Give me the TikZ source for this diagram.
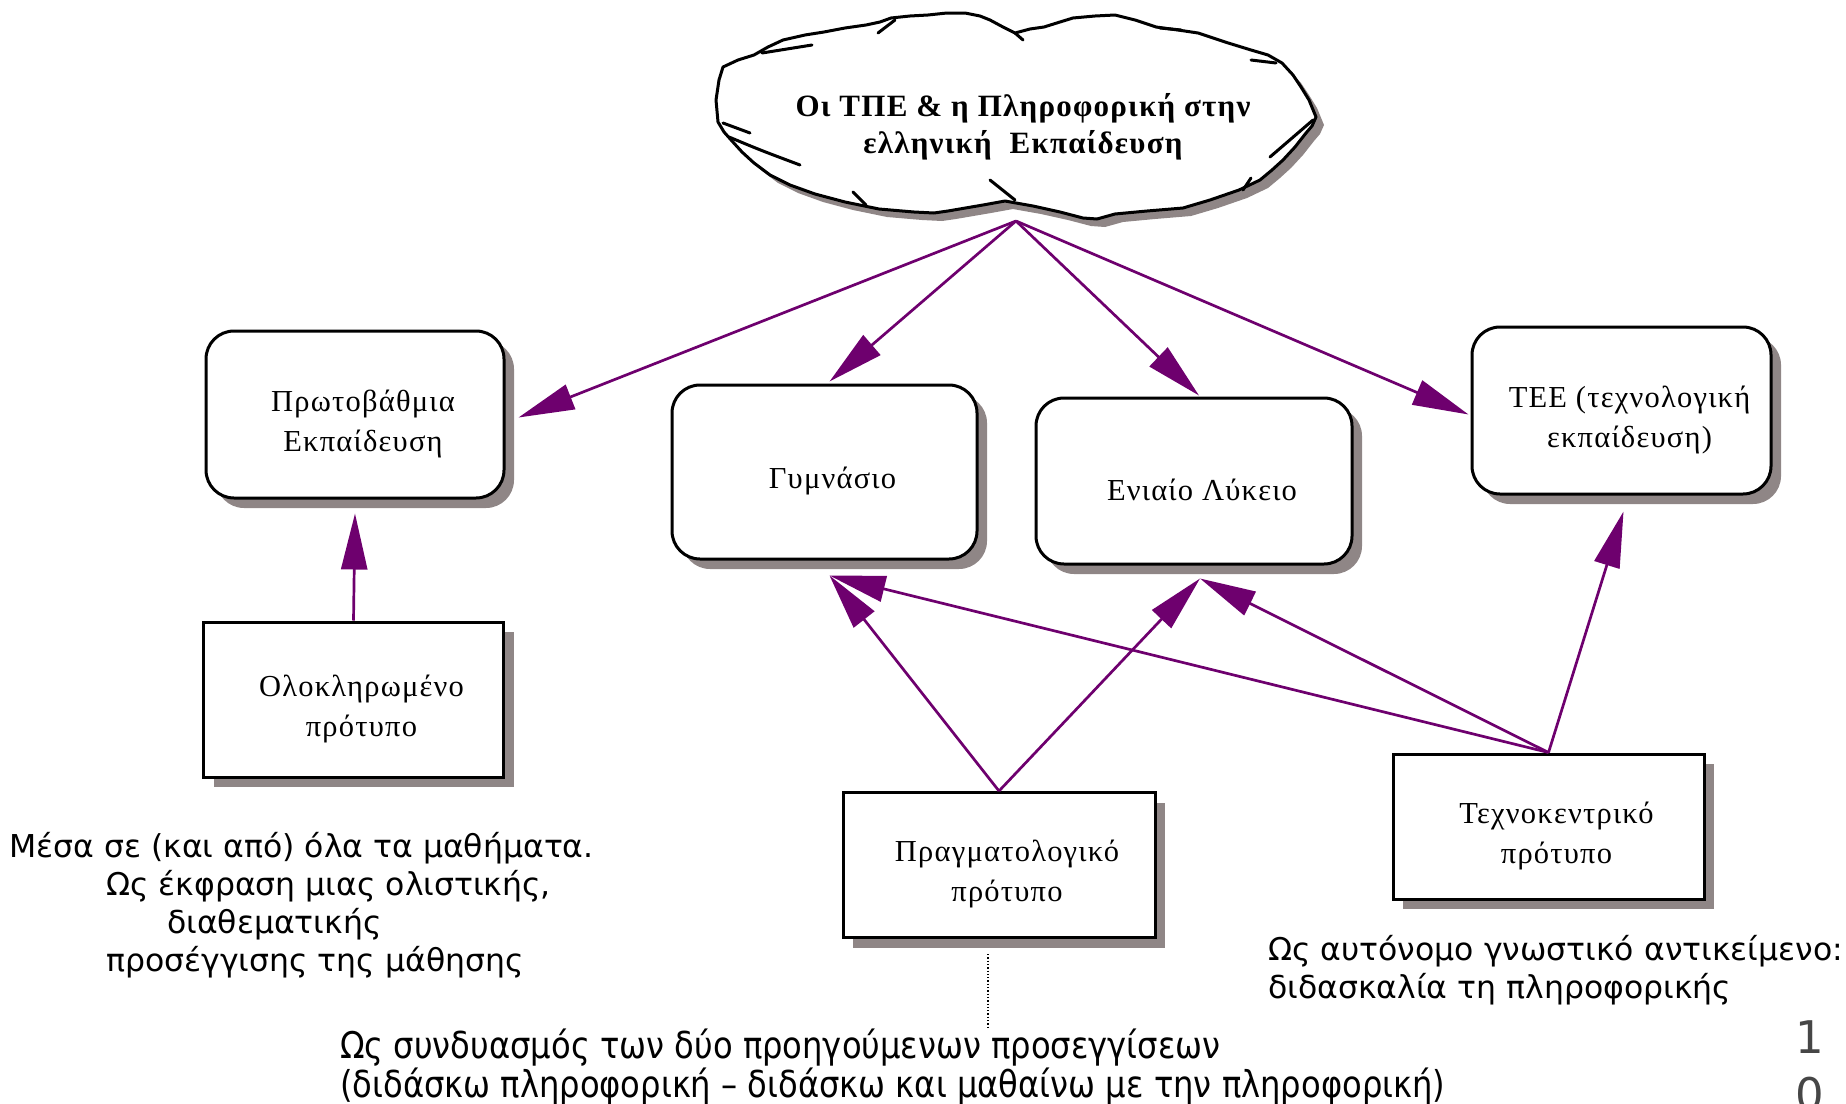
\documentclass[tikz,border=0pt]{standalone}
\usepackage{fontspec}
\setmainfont{Liberation Serif}
\newfontfamily\boxfont[LetterSpace=4]{Liberation Serif}
\newfontfamily\sansgr{DejaVu Sans}
\newfontfamily\condgr[FakeStretch=0.87]{DejaVu Sans}
\usetikzlibrary{arrows.meta,shadows,calc}
\definecolor{arrowpurple}{RGB}{110,0,110}
\definecolor{shadowgray}{RGB}{143,134,134}
\definecolor{pagegray}{RGB}{70,70,70}
\tikzset{
  boxshadow/.style={general shadow={fill=shadowgray, shadow xshift=10pt, shadow yshift=-10pt}},
  boxtext/.style={align=center, inner sep=0pt, font=\boxfont\fontsize{30.5}{40}\selectfont, xshift=8pt, yshift=-9pt},
  rbox/.style={draw=black, line width=3pt, fill=white, rounded corners=28pt, inner sep=0pt, boxshadow},
  sbox/.style={draw=black, line width=3pt, fill=white, inner sep=0pt, boxshadow},
  link/.style={draw=arrowpurple, line width=2.7pt, -{Triangle[length=56pt,width=26pt]}},
  note/.style={font=\sansgr\fontsize{31.5}{38}\selectfont, align=left, anchor=west, inner sep=0pt},
  cloudline/.style={line width=3pt, line join=round, line cap=round},
}
\begin{document}
\begin{tikzpicture}[x=1pt,y=-1pt]
\useasboundingbox (0,0) rectangle (1846,1103);
% cloud
\draw[cloudline, fill=white, general shadow={fill=shadowgray, shadow xshift=8pt, shadow yshift=-8pt}]
 (716,100) -- (719,80) -- (723,67) -- (738,60) -- (754,55) -- (768,47) -- (783,40) -- (805,35) -- (824,32)
 -- (845,28) -- (866,25) -- (880,22) -- (891,18) -- (910,16) -- (928,15) -- (947,13) -- (965,13) -- (980,16)
 -- (990,20) -- (1003,27) -- (1015,33) -- (1030,29) -- (1044,27) -- (1060,22) -- (1073,18) -- (1095,16)
 -- (1115,15) -- (1135,20) -- (1156,27) -- (1178,30) -- (1198,33) -- (1225,42) -- (1251,50) -- (1268,55)
 -- (1282,63) -- (1293,75) -- (1301,87) -- (1309,100) -- (1316,117) -- (1312,126) -- (1306,133) -- (1295,147)
 -- (1283,160) -- (1272,170) -- (1260,180) -- (1239,190) -- (1210,200) -- (1183,208) -- (1147,211) -- (1115,214)
 -- (1097,219) -- (1083,218) -- (1060,212) -- (1033,206) -- (1016,203) -- (1005,201) -- (983,205) -- (948,211)
 -- (934,213) -- (914,212) -- (879,209) -- (845,202) -- (815,194) -- (790,185) -- (770,175) -- (754,163)
 -- (742,152) -- (732,141) -- (724,132) -- (718,122) -- cycle;
\foreach \a/\b in {{(878,33)}/{(895,20)}, {(1015,33)}/{(1023,40)}, {(1160,28)}/{(1181,30)},
  {(1251,60)}/{(1276,63)}, {(762,53)}/{(812,45)}, {(723,123)}/{(750,133)}, {(1270,157)}/{(1313,120)},
  {(1243,190)}/{(1251,178)}, {(990,180)}/{(1015,200)}, {(853,192)}/{(866,205)}}
  \draw[cloudline] \a -- \b;
\draw[cloudline] (729,137) .. controls (760,150) .. (800,165);
\node[font=\boxfont\bfseries\fontsize{31}{37}\selectfont, align=center, inner sep=0pt] (title) at (1023,127)
  {Οι ΤΠΕ \& η Πληροφορική στην\\ελληνική\ \ Εκπαίδευση};
\coordinate (hub) at (1016,221);

% boxes
\node[rbox, minimum width=298pt, minimum height=167pt, label={[boxtext]center:{Πρωτοβάθμια\\Εκπαίδευση}}] (prot) at (355,414.5) {};
\node[rbox, minimum width=305pt, minimum height=174pt, label={[boxtext]center:{Γυμνάσιο}}] (gym) at (824.5,472) {};
\node[rbox, minimum width=316pt, minimum height=166pt, label={[boxtext]center:{Ενιαίο Λύκειο}}] (lyk) at (1194,481) {};
\node[rbox, minimum width=299pt, minimum height=167pt, label={[boxtext]center:{ΤΕΕ (τεχνολογική\\εκπαίδευση)}}] (tee) at (1621.5,410.5) {};
\node[sbox, minimum width=300pt, minimum height=155pt, label={[boxtext]center:{Ολοκληρωμένο\\πρότυπο}}] (olo) at (353.5,699.5) {};
\node[sbox, minimum width=312pt, minimum height=145pt, label={[boxtext]center:{Πραγματολογικό\\πρότυπο}}] (prag) at (999,865) {};
\node[sbox, minimum width=311pt, minimum height=145pt, label={[boxtext]center:{Τεχνοκεντρικό\\πρότυπο}}] (tech) at (1548.5,826.5) {};

% arrow targets
\coordinate (protIn) at ($(prot.east)+(13,3)$);
\coordinate (gymIn) at ($(gym.north)+(5,-2)$);
\coordinate (lykIn) at ($(lyk.north)+(5,-1)$);
\coordinate (teeIn) at ($(tee.west)+(-2,4)$);
\coordinate (protB) at ($(prot.south)+(0,14)$);
\coordinate (gymB) at ($(gym.south)+(5,15)$);
\coordinate (lykB) at ($(lyk.south)+(6,13)$);
\coordinate (teeB) at ($(tee.south)+(2,16)$);

\draw[link] (hub) -- (protIn);
\draw[link] (hub) -- (gymIn);
\draw[link] (hub) -- (lykIn);
\draw[link] (hub) -- (teeIn);
\draw[link] (olo.north) -- (protB);
\draw[link] (prag.north) -- (gymB);
\draw[link] (prag.north) -- (lykB);
\draw[link] (tech.north) -- (gymB);
\draw[link] (tech.north) -- (lykB);
\draw[link] (tech.north) -- (teeB);

% dotted connector
\coordinate (dotEnd) at (988,1027);
\draw[dotted, line width=1.3pt] ($(prag.south)+(-11,15)$) -- (dotEnd);

% notes
\node[note] (noteL) at (9,905) {Μέσα σε (και από) όλα τα μαθήματα.\\
  \hspace*{97pt}Ως έκφραση μιας ολιστικής,\\
  \hspace*{158pt}διαθεματικής\\
  \hspace*{97pt}προσέγγισης της μάθησης};
\node[note] (noteR) at (1268,970) {Ως αυτόνομο γνωστικό αντικείμενο:\\διδασκαλία τη πληροφορικής};
\node[note, font=\condgr\fontsize{37}{39}\selectfont] (noteB) at (340,1067)
  {Ως συνδυασμός των δύο προηγούμενων προσεγγίσεων\\(διδάσκω πληροφορική – διδάσκω και μαθαίνω με την πληροφορική)};
\node[font=\sansgr\fontsize{45}{57}\selectfont, text=pagegray, align=center, inner sep=0pt, anchor=north] (pagenum) at (1810,1020) {1\\0};
\end{tikzpicture}
\end{document}
